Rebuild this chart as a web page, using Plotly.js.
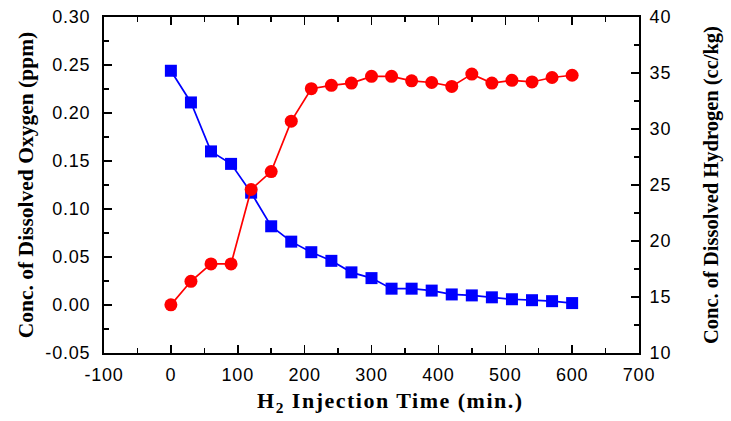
<!DOCTYPE html>
<html>
<head>
<meta charset="utf-8">
<script src="https://cdn.plot.ly/plotly-3.0.1.min.js"></script>
<style>
html,body{margin:0;padding:0;background:#fff;}
#chart{width:731px;height:421px;}
#chart .xtick text, #chart .ytick text, #chart .y2tick text {letter-spacing: 0.8px;}
#chart .annotation-text {letter-spacing: 1.5px;}
</style>
</head>
<body>
<div id="chart"></div>
<script>
const time = [0,30,60,90,120,150,180,210,240,270,300,330,360,390,420,450,480,510,540,570,600];
const oxygen = [0.244,0.211,0.160,0.147,0.117,0.082,0.066,0.055,0.046,0.034,0.028,0.017,0.017,0.015,0.011,0.010,0.008,0.006,0.005,0.004,0.002];
const hydrogen = [14.3,16.4,17.95,17.95,24.6,26.2,30.7,33.6,33.9,34.1,34.7,34.7,34.3,34.15,33.8,34.9,34.1,34.35,34.2,34.6,34.8];

const xTickVals = [-100,0,100,200,300,400,500,600,700];
const xTickText = ['-100','0','100','200','300','400','500','600','700'];
const yTickVals = [-0.05,0,0.05,0.10,0.15,0.20,0.25,0.30];
const yTickText = ['-0.05','0.00','0.05','0.10','0.15','0.20','0.25','0.30'];
const y2TickVals = [10,15,20,25,30,35,40];
const y2TickText = ['10','15','20','25','30','35','40'];

const xTitle = 'H<sub>2</sub> Injection Time (min.)';
const yTitle = 'Conc. of Dissolved Oxygen (ppm)';
const y2Title = 'Conc. of Dissolved Hydrogen (cc/kg)';

const tickFont = {family: 'Liberation Sans, Arial, sans-serif', size: 18, color: '#000'};
const titleFont = {family: 'Liberation Serif, Times New Roman, serif', color: '#000', weight: 'bold'};

const traces = [
  {x: time, y: oxygen, yaxis: 'y', type: 'scatter', mode: 'lines+markers',
   line: {color: '#0000ff', width: 1.7},
   marker: {symbol: 'square', size: 12, color: '#0000ff'}, showlegend: false},
  {x: time, y: hydrogen, yaxis: 'y2', type: 'scatter', mode: 'lines+markers',
   line: {color: '#ff0000', width: 1.7},
   marker: {symbol: 'circle', size: 13, color: '#ff0000'}, showlegend: false}
];

const layout = {
  width: 731, height: 421,
  margin: {l: 104, r: 92, t: 17, b: 68},
  paper_bgcolor: '#fff', plot_bgcolor: '#fff',
  showlegend: false,
  xaxis: {
    range: [-100, 700], tickmode: 'array', tickvals: xTickVals, ticktext: xTickText,
    showline: true, linecolor: '#000', linewidth: 2, mirror: 'ticks',
    ticks: 'inside', ticklen: 8, tickwidth: 1.5, tickcolor: '#000',
    minor: {dtick: 50, tick0: 0, ticks: 'inside', ticklen: 5, tickwidth: 1.5, tickcolor: '#000'},
    showgrid: false, zeroline: false,
    tickfont: tickFont, ticklabelstandoff: 4
  },
  yaxis: {
    range: [-0.05, 0.30], tickmode: 'array', tickvals: yTickVals, ticktext: yTickText,
    showline: true, linecolor: '#000', linewidth: 2,
    ticks: 'inside', ticklen: 8, tickwidth: 1.5, tickcolor: '#000',
    minor: {dtick: 0.025, tick0: 0, ticks: 'inside', ticklen: 5, tickwidth: 1.5, tickcolor: '#000'},
    showgrid: false, zeroline: false,
    tickfont: tickFont, ticklabelstandoff: 8,
    title: {text: yTitle, font: Object.assign({size: 21.5}, titleFont), standoff: 10}
  },
  yaxis2: {
    range: [10, 40], tickmode: 'array', tickvals: y2TickVals, ticktext: y2TickText,
    overlaying: 'y', side: 'right',
    showline: true, linecolor: '#000', linewidth: 2,
    ticks: 'inside', ticklen: 8, tickwidth: 1.5, tickcolor: '#000',
    minor: {dtick: 2.5, tick0: 10, ticks: 'inside', ticklen: 5, tickwidth: 1.5, tickcolor: '#000'},
    showgrid: false, zeroline: false,
    tickfont: tickFont, ticklabelstandoff: 5,
    title: {text: y2Title, font: Object.assign({size: 20.5}, titleFont), standoff: 35}
  },
  annotations: [{
    text: xTitle, xref: 'paper', yref: 'paper', x: 0.535, y: -0.146,
    xanchor: 'center', yanchor: 'middle', showarrow: false,
    font: Object.assign({size: 22}, titleFont)
  }]
};

Plotly.newPlot('chart', traces, layout, {displayModeBar: false, staticPlot: true});
</script>
</body>
</html>
